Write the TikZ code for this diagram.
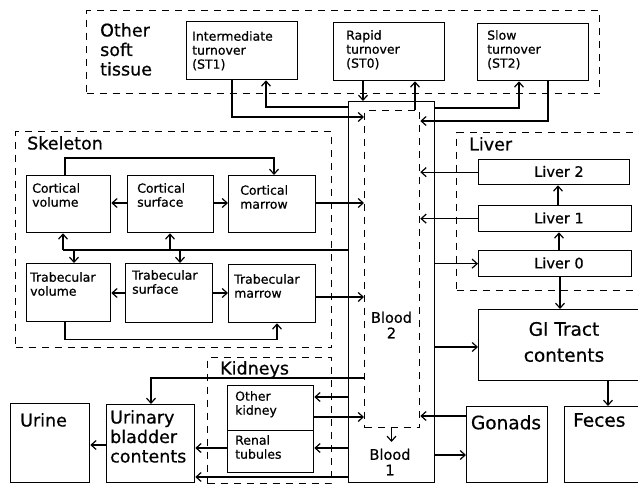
\documentclass[tikz,border=0pt]{standalone}
\usepackage{fontspec}
\setmainfont[FakeBold=0.6]{DejaVu Sans}
\usetikzlibrary{arrows.meta}
\newcommand\fontL{\fontsize{17.5}{19.5}\selectfont}
\newcommand\fontS{\fontsize{12.5}{14}\selectfont}
\newcommand\fontM{\fontsize{14.5}{15.5}\selectfont}
\newcommand\fontX{\fontsize{18.5}{26}\selectfont}
\tikzset{
  bx/.style={draw, line width=1.3pt, inner sep=0pt, anchor=north west},
  dbox/.style={bx, dash pattern=on 7pt off 6pt},
  txt/.style={inner sep=0pt, anchor=north west, align=left},
  ctxt/.style={inner sep=0pt, align=center},
  arr/.style={line width=1.2pt, -{Straight Barb[length=5pt,width=9pt]}},
  ln/.style={line width=1.2pt},
}
\newcommand\rb[6][bx]{\node[#1, minimum width={(#5-#3)*1pt}, minimum height={(#6-#4)*1pt}] (#2) at (#3,#4) {};}
\begin{document}
\begin{tikzpicture}[x=1pt,y=-1pt]
\clip (0,0) rectangle (638,484);
% group boxes
\rb[dbox]{ost}{86}{10}{599}{93}
\rb[dbox]{skel}{15}{131}{331}{347}
\rb[dbox]{liv}{456}{132}{660}{290}
\rb[dbox]{kid}{207}{357}{331}{483}
% boxes
\rb{st1}{186}{21}{297}{79}
\rb{st0}{333}{22}{444}{80}
\rb{st2}{477}{23}{588}{80}
\rb{blood}{348}{101}{434}{482}
\rb[dbox]{b2}{364}{110}{419}{427}
\rb{cv}{26}{175}{110}{232}
\rb{cs}{127}{175}{213}{232}
\rb{cm}{228}{175}{315}{232}
\rb{tv}{26}{263}{110}{321}
\rb{ts}{125}{263}{212}{322}
\rb{tm}{228}{264}{315}{322}
\rb{l2}{478}{159}{629}{184}
\rb{l1}{478}{205}{631}{231}
\rb{l0}{478}{250}{631}{276}
\rb{gi}{478}{309}{660}{380}
\rb{gon}{466}{406}{547}{482}
\rb{fec}{564}{406}{660}{482}
\rb{ok}{227}{385}{313}{430}
\rb{rt}{227}{430}{313}{472}
\rb{ub}{106}{404}{194}{482}
\rb{ur}{10}{403}{89}{482}
% texts
\node[txt, font=\fontL] (tost) at (100,23) {Other\\soft\\tissue};
\node[txt, font=\fontS] (tst1) at (192,31) {Intermediate\\turnover\\(ST1)};
\node[txt, font=\fontS] (tst0) at (346,30) {Rapid\\turnover\\(ST0)};
\node[txt, font=\fontS] (tst2) at (487,30) {Slow\\turnover\\(ST2)};
\node[txt, font=\fontL] (tskel) at (27,136) {Skeleton};
\node[txt, font=\fontS] (tcv) at (32,183) {Cortical\\volume};
\node[txt, font=\fontS] (tcs) at (137,183) {Cortical\\surface};
\node[txt, font=\fontS] (tcm) at (240,185) {Cortical\\marrow};
\node[txt, font=\fontS] (ttv) at (30,272) {Trabecular\\volume};
\node[txt, font=\fontS] (tts) at (132,270) {Trabecular\\surface};
\node[txt, font=\fontS] (ttm) at (234,274) {Trabecular\\marrow};
\node[txt, font=\fontL] (tliv) at (469,137) {Liver};
\node[ctxt, font=\fontM] (tl2) at (559,171.5) {Liver 2};
\node[ctxt, font=\fontM] (tl1) at (559,218) {Liver 1};
\node[ctxt, font=\fontM] (tl0) at (559,263) {Liver 0};
\node[ctxt, font=\fontM] (tb2) at (391.5,325) {Blood\\2};
\node[ctxt, font=\fontM] (tb1) at (390,462) {Blood\\1};
\node[ctxt, font=\fontX] (tgi) at (564,342) {GI Tract\\contents};
\node[ctxt, font=\fontX, anchor=north] (tgon) at (506,415) {Gonads};
\node[txt, font=\fontX] (tfec) at (573,413) {Feces};
\node[txt, font=\fontL] (tkid) at (220,361) {Kidneys};
\node[txt, font=\fontS] (tok) at (235,391) {Other\\kidney};
\node[txt, font=\fontS] (trt) at (235,435) {Renal\\tubules};
\node[txt, font=\fontL, align=left] (tub) at (110,410) {Urinary\\bladder\\contents};
\node[txt, font=\fontL] (tur) at (20,413) {Urine};
% soft tissue connectors
\draw[arr] (st1.south -| 232,0) |- (b2.west |- 0,117);
\draw[arr] (blood.west |- 0,107) -| (st1.south -| 266,0);
\draw[arr] (st0.south -| 363,0) -- (blood.north -| 363,0);
\draw[arr] (b2.north -| 415,0) -- (st0.south -| 415,0);
\draw[arr] (blood.east |- 0,108) -| (st2.south -| 519,0);
\draw[arr] (st2.south -| 548,0) |- (b2.east |- 0,121);
% skeleton
\draw[arr] (cv.north -| 65,0) -- ++(0,-17) -| (cm.north -| 274,0);
\draw[arr] (cs.west |- 0,203) -- (cv.east |- 0,203);
\draw[arr] (cs.east |- 0,203) -- (cm.west |- 0,203);
\draw[arr] (ts.west |- 0,293) -- (tv.east |- 0,293);
\draw[arr] (ts.east |- 0,293) -- (tm.west |- 0,293);
\draw[arr] (tv.south -| 65,0) -- ++(0,17) -| (tm.south -| 277,0);
\coordinate (sk) at (63,250);
\draw[ln] (blood.west |- sk) -- (sk);
\draw[arr] (sk) -- (cv.south -| sk);
\draw[arr] (sk -| 74,0) -- (tv.north -| 74,0);
\draw[arr] (sk -| 170,0) -- (cs.south -| 170,0);
\draw[arr] (sk -| 180,0) -- (ts.north -| 180,0);
\draw[arr] (cm.east |- 0,203) -- (b2.west |- 0,203);
\draw[arr] (tm.east |- 0,297) -- (b2.west |- 0,297);
% liver
\draw[arr] (l2.west) -- (b2.east |- l2.west);
\draw[arr] (l1.west) -- (b2.east |- l1.west);
\draw[arr] (blood.east |- l0.west) -- (l0.west);
\draw[arr] (l1.north -| 558,0) -- (l2.south -| 558,0);
\draw[arr] (l0.north -| 559,0) -- (l1.south -| 559,0);
\draw[arr] (l0.south -| 560,0) -- (gi.north -| 560,0);
% GI, gonads
\draw[arr] (blood.east |- 0,347) -- (gi.west |- 0,347);
\draw[arr] (gi.south -| 608,0) -- (fec.north -| 608,0);
\draw[arr] (gon.west |- 0,416) -- (b2.east |- 0,416);
\draw[arr] (blood.east |- 0,455) -- (gon.west |- 0,455);
% kidneys, bladder
\draw[arr] (b2.west |- 0,378) -| (ub.north -| 151,0);
\draw[arr] (blood.west |- 0,397) -- (ok.east |- 0,397);
\draw[arr] (ok.east |- 0,417) -- (b2.west |- 0,417);
\draw[arr] (blood.west |- 0,448) -- (rt.east |- 0,448);
\draw[arr] (rt.west |- 0,448) -- (ub.east |- 0,448);
\draw[arr] (blood.west |- 0,477) -- (ub.east |- 0,477);
\draw[arr] (ub.west |- 0,445) -- (ur.east |- 0,445);
\draw[arr] (b2.south -| 391.5,0) -- (391.5,442);
\end{tikzpicture}
\end{document}
